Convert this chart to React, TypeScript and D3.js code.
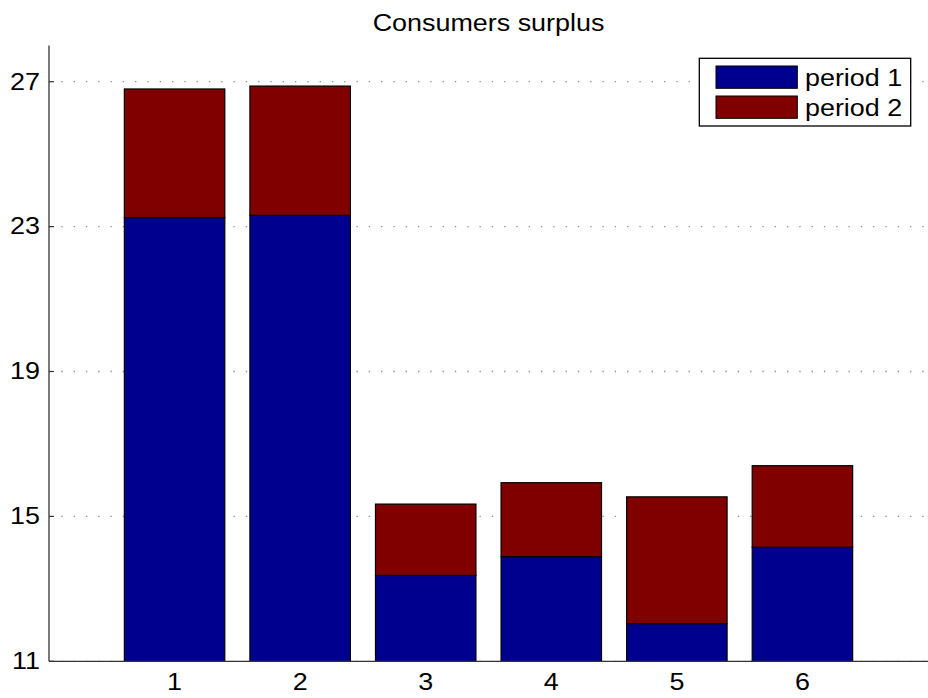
import React from 'react';
import * as d3 from 'd3';

const categories = [1, 2, 3, 4, 5, 6];
const period1 = [23.25, 23.31, 13.37, 13.89, 12.04, 14.15];
const period2 = [3.55, 3.57, 1.97, 2.04, 3.5, 2.25];
const yTicks = [11, 15, 19, 23, 27];
const seriesNames = ['period 1', 'period 2'];
const seriesColors = ['#00008F', '#800000'];
const title = 'Consumers surplus';

const W = 928;
const H = 698;
const FONT = '"Liberation Sans", Arial, Helvetica, sans-serif';
const FS = 23;
const SX = 1.17;

export default function App() {
  const x = d3.scaleLinear().domain([0, 7]).range([49, 928]);
  const y = d3.scaleLinear().domain([11, 28]).range([661.3, 45.5]);
  const table = categories.map((c, i) => ({ cat: c, p1: period1[i], p2: period2[i] }));
  const stacked = d3.stack<any>().keys(['p1', 'p2'])(table);
  const bw = x(0.8) - x(0);
  const [x0, x1] = x.range();
  const [yb, yt] = y.range();

  return (
    <svg width={W} height={H} style={{ position: 'absolute', left: 0, top: 0, background: '#fff' }} fontFamily={FONT}>
      <rect x={0} y={0} width={W} height={H} fill="#fff" />
      <defs>
        <clipPath id="plot">
          <rect x={x0} y={yt} width={x1 - x0} height={yb - yt} />
        </clipPath>
      </defs>
      {/* grid */}
      {yTicks.map((t) => (
        <line key={'g' + t} x1={x0} x2={x1} y1={y(t)} y2={y(t)} stroke="#8a8a8a" strokeWidth={1.3} strokeDasharray="1.3 11" />
      ))}
      {/* bars */}
      <g clipPath="url(#plot)">
        {stacked.map((s, si) =>
          s.map((d, i) => (
            <rect
              key={si + '-' + i}
              x={x(categories[i]) - bw / 2}
              width={bw}
              y={y(d[1])}
              height={y(d[0]) - y(d[1])}
              fill={seriesColors[si]}
              stroke="#000"
              strokeWidth={1.2}
            />
          ))
        )}
      </g>
      {/* axes */}
      <line x1={x0} x2={x0} y1={yt} y2={yb} stroke="#333" strokeWidth={1.3} />
      <line x1={x0} x2={x1} y1={yb} y2={yb} stroke="#333" strokeWidth={1.3} />
      {yTicks.map((t) => (
        <g key={'t' + t}>
          <line x1={x0} x2={x0 + 5} y1={y(t)} y2={y(t)} stroke="#333" strokeWidth={1.2} />
          <text transform={`translate(${x0 - 9},${y(t) + 7.8}) scale(${SX},1)`} textAnchor="end" fontSize={FS} fill="#000">
            {t}
          </text>
        </g>
      ))}
      {categories.map((c) => (
        <text key={'x' + c} transform={`translate(${x(c)},690) scale(${SX},1)`} textAnchor="middle" fontSize={FS} fill="#000">
          {c}
        </text>
      ))}
      {/* title */}
      <text transform={`translate(${(x0 + x1) / 2},31) scale(${SX},1)`} textAnchor="middle" fontSize={FS} fill="#000">
        {title}
      </text>
      {/* legend */}
      <rect x={699.3} y={58.3} width={211.4} height={67.7} fill="#fff" stroke="#000" strokeWidth={1.3} />
      {seriesNames.map((n, i) => (
        <g key={'l' + n}>
          <rect x={716} y={66 + i * 30} width={81.3} height={22.3} fill={seriesColors[i]} stroke="#000" strokeWidth={1} />
          <text transform={`translate(805,${85.5 + i * 30}) scale(${SX},1)`} fontSize={FS} fill="#000">
            {n}
          </text>
        </g>
      ))}
    </svg>
  );
}
